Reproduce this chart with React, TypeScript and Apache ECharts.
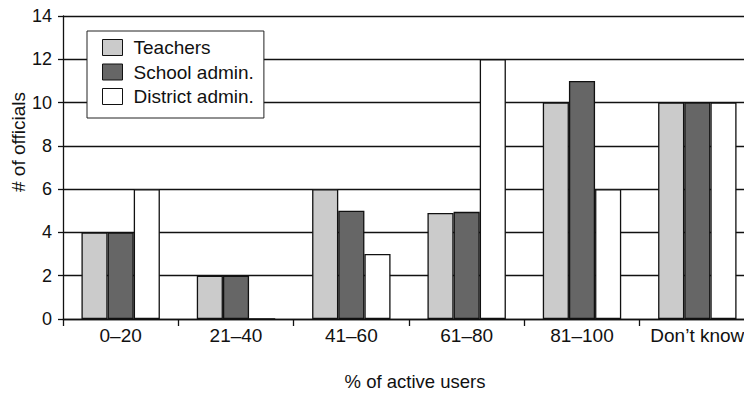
import React, { useEffect, useRef } from "react";
import * as echarts from "echarts";

// Share of active users, by respondent group
const categories = ["0–20", "21–40", "41–60", "61–80", "81–100", "Don’t know"];
const teachers = [4, 2, 6, 4.9, 10, 10];
const schoolAdmin = [4, 2, 5, 4.95, 11, 10];
const districtAdmin = [6, 0, 3, 12, 6, 10];
const yTicks = { min: 0, max: 14, interval: 2 };

const FONT = "'Liberation Sans', Arial, Helvetica, sans-serif";
const INK = "#111";

export default function App() {
  const ref = useRef<HTMLDivElement>(null);

  useEffect(() => {
    if (!ref.current) return;
    const chart = echarts.init(ref.current, undefined, { renderer: "svg" });

    const barStyle = (color: string) => ({
      color,
      borderColor: INK,
      borderWidth: 1.3,
    });

    chart.setOption({
      animation: false,
      backgroundColor: "#fff",
      textStyle: { fontFamily: FONT, color: INK },
      grid: { left: 63, top: 16, width: 692, height: 303, containLabel: false },
      legend: {
        orient: "vertical",
        left: 87,
        top: 31,
        padding: [7, 10, 12, 15],
        itemWidth: 20,
        itemHeight: 16,
        itemGap: 5.5,
        icon: "rect",
        backgroundColor: "#fff",
        borderColor: "#222",
        borderWidth: 1,
        borderRadius: 0,
        itemStyle: { borderColor: INK, borderWidth: 1 },
        textStyle: {
          fontFamily: FONT,
          fontSize: 19,
          color: INK,
          lineHeight: 19,
          padding: [0, 0, 0, 6],
        },
        data: ["Teachers", "School admin.", "District admin."],
      },
      xAxis: {
        type: "category",
        data: categories,
        axisLine: { lineStyle: { color: INK, width: 1.3 } },
        axisTick: { show: true, length: 7, lineStyle: { color: INK, width: 1.3 } },
        axisLabel: { interval: 0, fontFamily: FONT, fontSize: 19, color: INK, margin: 7 },
      },
      yAxis: {
        type: "value",
        min: yTicks.min,
        max: yTicks.max,
        interval: yTicks.interval,
        axisLine: { show: true, lineStyle: { color: INK, width: 1.3 } },
        axisTick: { show: true, length: 5, lineStyle: { color: INK, width: 1.3 } },
        axisLabel: { fontFamily: FONT, fontSize: 18, color: INK, margin: 11 },
        splitLine: { show: true, lineStyle: { color: INK, width: 1.3 } },
      },
      graphic: [
        {
          type: "text",
          x: 18,
          y: 142,
          rotation: Math.PI / 2,
          style: {
            text: "# of officials",
            fontFamily: FONT,
            fontSize: 19,
            fill: INK,
            align: "center",
            verticalAlign: "middle",
          },
        },
        {
          type: "text",
          x: 415,
          y: 381,
          style: {
            text: "% of active users",
            fontFamily: FONT,
            fontSize: 18.5,
            fill: INK,
            align: "center",
            verticalAlign: "middle",
          },
        },
      ],
      series: [
        {
          name: "Teachers",
          type: "bar",
          data: teachers,
          barGap: "0%",
          barCategoryGap: "32%",
          itemStyle: barStyle("#cbcbcb"),
        },
        {
          name: "School admin.",
          type: "bar",
          data: schoolAdmin,
          barGap: "0%",
          barCategoryGap: "32%",
          itemStyle: barStyle("#666666"),
        },
        {
          name: "District admin.",
          type: "bar",
          data: districtAdmin,
          barGap: "0%",
          barCategoryGap: "32%",
          itemStyle: barStyle("#ffffff"),
        },
      ],
    });

    return () => chart.dispose();
  }, []);

  // The plot runs a little past the right edge of the visible frame.
  return (
    <div
      style={{ position: "fixed", left: 0, top: 0, width: 744, height: 395, overflow: "hidden", background: "#fff" }}
    >
      <div ref={ref} style={{ width: 760, height: 395 }} />
    </div>
  );
}
